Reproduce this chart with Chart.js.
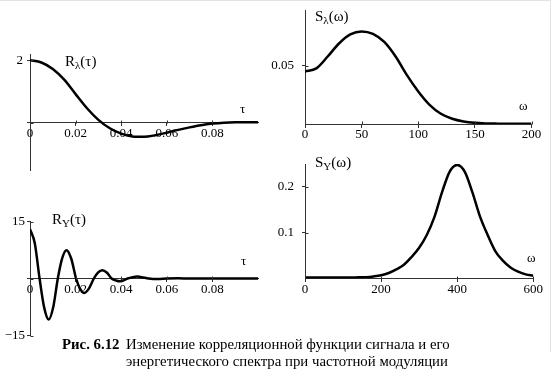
<!DOCTYPE html>
<html>
<head>
<meta charset="utf-8">
<script src="https://cdn.jsdelivr.net/npm/chart.js@4.4.1/dist/chart.umd.min.js"></script>
<style>
  html, body { margin: 0; padding: 0; background: #fff; }
  #page { position: relative; width: 553px; height: 384px; overflow: hidden; background: #fff;
          font-family: "Liberation Serif", "Times New Roman", serif; color: #000; }
  canvas { position: absolute; }
  .lbl { position: absolute; font-size: 15px; line-height: 1; white-space: nowrap; }
  .lbl sub { font-size: 11px; vertical-align: -3px; line-height: 0; }
  .ax { position: absolute; font-size: 13px; line-height: 1; }
  .caption { position: absolute; font-size: 14.8px; line-height: 17px; white-space: nowrap; }
  .edge { position: absolute; background: #e2e2e2; }
</style>
</head>
<body>
<div id="page">
  <div class="edge" style="left:0;top:0;width:551px;height:1px"></div>
  <div class="edge" style="left:550px;top:0;width:1px;height:352px"></div>

  <canvas id="chartTL" width="275" height="150" style="left:0;top:40px"></canvas>
  <canvas id="chartTR" width="291" height="145" style="left:262px;top:0"></canvas>
  <canvas id="chartBL" width="275" height="150" style="left:0;top:200px"></canvas>
  <canvas id="chartBR" width="291" height="150" style="left:262px;top:150px"></canvas>

  <div class="lbl" style="left:65px;top:54px">R<sub>λ</sub>(τ)</div>
  <div class="lbl" style="left:315px;top:9px">S<sub>λ</sub>(ω)</div>
  <div class="lbl" style="left:52px;top:212px">R<sub>Y</sub>(τ)</div>
  <div class="lbl" style="left:315px;top:155px">S<sub>Y</sub>(ω)</div>

  <div class="ax" style="left:240px;top:102px">τ</div>
  <div class="ax" style="left:519px;top:99px">ω</div>
  <div class="ax" style="left:241px;top:254px">τ</div>
  <div class="ax" style="left:527px;top:251px">ω</div>

  <div class="caption" style="left:62px;top:335.5px"><b>Рис. 6.12</b></div>
  <div class="caption" style="left:126px;top:335.5px">Изменение корреляционной функции сигнала и его<br>энергетического спектра при частотной модуляции</div>
</div>

<script>
// --- данные ---
// R_lambda(tau), верхний левый график
const tauA = [0, 0.005, 0.01, 0.015, 0.02, 0.025, 0.03, 0.035, 0.04, 0.045, 0.05,
              0.055, 0.06, 0.065, 0.07, 0.075, 0.08, 0.085, 0.09, 0.095, 0.1];
const rLambda = [2.00, 1.93, 1.72, 1.38, 0.92, 0.47, 0.10, -0.17, -0.34, -0.43, -0.44,
                 -0.39, -0.31, -0.22, -0.14, -0.07, -0.02, 0.01, 0.02, 0.02, 0.02];

// S_lambda(omega), верхний правый график
const omegaA = [0, 10, 20, 30, 40, 50, 60, 70, 80, 90, 100,
                110, 120, 130, 140, 150, 160, 170, 180, 190, 200];
const sLambda = [0.0451, 0.0478, 0.0580, 0.0692, 0.0770, 0.0796, 0.0775, 0.0705, 0.0580, 0.0420, 0.0280,
                 0.0165, 0.0088, 0.0045, 0.0022, 0.0010, 0.0005, 0.0003, 0.0002, 0.0002, 0.0002];

// R_Y(tau), нижний левый график
const tauB = [0, 0.0021, 0.0042, 0.0062, 0.0082, 0.0102, 0.0122, 0.0141, 0.016, 0.0181,
              0.0202, 0.022, 0.0238, 0.0259, 0.028, 0.0298, 0.0317, 0.0338, 0.0358, 0.0376,
              0.0393, 0.041, 0.0428, 0.045, 0.047, 0.049, 0.052, 0.056, 0.06, 0.065,
              0.07, 0.08, 0.09, 0.1];
const rY = [13.0, 9.3, 0, -7.6, -10.8, -7.5, 0, 5.3, 7.45, 5.2,
            0, -2.7, -3.8, -2.6, 0, 1.55, 2.2, 1.5, 0, -0.5,
            -0.75, -0.5, 0, 0.35, 0.5, 0.35, 0, -0.15, 0, 0.05,
            0, 0.03, 0.03, 0.03];

// S_Y(omega), нижний правый график
const omegaB = [0, 20, 40, 60, 80, 100, 120, 140, 160, 180, 200, 220, 240, 260, 280, 300,
                320, 340, 360, 380, 400, 420, 440, 460, 480, 500, 520, 540, 560, 580, 600];
const sY = [0.002, 0.002, 0.002, 0.002, 0.002, 0.002, 0.002, 0.0025, 0.003, 0.0045, 0.007,
            0.012, 0.020, 0.030, 0.047, 0.067, 0.095, 0.134, 0.188, 0.233, 0.248,
            0.233, 0.188, 0.135, 0.095, 0.060, 0.039, 0.024, 0.015, 0.009, 0.006];

// деления осей
const xTicksA = [0, 0.02, 0.04, 0.06, 0.08];
const xLabelsA = ["0", "0.02", "0.04", "0.06", "0.08"];
const xTicksTR = [0, 50, 100, 150, 200];
const xLabelsTR = ["0", "50", "100", "150", "200"];
const xTicksBR = [0, 200, 400, 600];
const xLabelsBR = ["0", "200", "400", "600"];
const yTicksTL = [0, 2];
const yLabelsTL = ["", "2"];
const yTicksTR = [0.05];
const yLabelsTR = ["0.05"];
const yTicksBL = [-15, 0, 15];
const yLabelsBL = ["\u221215", "", "15"];
const yTicksBR = [0.1, 0.2];
const yLabelsBR = ["0.1", "0.2"];

Chart.defaults.font.family = '"Liberation Serif", "Times New Roman", serif';
Chart.defaults.font.size = 13;
Chart.defaults.color = "#000";

// засечки, пересекающие ось (как в Mathcad)
const crossTicks = {
  id: "crossTicks",
  afterDraw(chart) {
    const ctx = chart.ctx;
    const xs = chart.scales.x;
    const ys = chart.scales.y;
    const y0 = Math.round(ys.getPixelForValue(0)) + 0.5;
    const x0 = Math.round(chart.chartArea.left) + 0.5;
    ctx.save();
    ctx.strokeStyle = "#333";
    ctx.lineWidth = 1;
    ctx.beginPath();
    xs.ticks.forEach(function (t) {
      const px = Math.round(xs.getPixelForValue(t.value)) + 0.5;
      ctx.moveTo(px, y0 - 3);
      ctx.lineTo(px, y0);
    });
    ys.ticks.forEach(function (t) {
      const py = Math.round(ys.getPixelForValue(t.value)) + 0.5;
      ctx.moveTo(x0, py);
      ctx.lineTo(x0 + 3, py);
    });
    ctx.stroke();
    ctx.restore();
  }
};

function makeChart(id, xs, ys, opts) {
  const points = xs.map(function (x, i) { return { x: x, y: ys[i] }; });
  return new Chart(document.getElementById(id), {
    type: "line",
    data: {
      datasets: [{
        data: points,
        borderColor: "#000",
        borderWidth: 2.5,
        pointRadius: 0,
        cubicInterpolationMode: "monotone",
        fill: false
      }]
    },
    options: {
      responsive: false,
      animation: false,
      events: [],
      layout: { padding: opts.padding },
      plugins: { legend: { display: false }, tooltip: { enabled: false } },
      scales: {
        x: {
          type: "linear",
          position: { y: 0 },
          min: opts.xMin,
          max: opts.xMax,
          afterBuildTicks: function (s) { s.ticks = opts.xTicks.map(function (v) { return { value: v }; }); },
          afterFit: function (s) { s.height = 0; s.paddingLeft = 0; s.paddingRight = 0; },
          grid: { drawOnChartArea: false, drawTicks: true, tickLength: 3, color: "#333" },
          border: { display: true, color: "#333", width: 1 },
          ticks: {
            padding: 0,
            maxRotation: 0,
            autoSkip: false,
            callback: function (v, i) { return opts.xLabels[i]; }
          }
        },
        y: {
          type: "linear",
          position: "left",
          min: opts.yMin,
          max: opts.yMax,
          afterBuildTicks: function (s) { s.ticks = opts.yTicks.map(function (v) { return { value: v }; }); },
          // фиксированная ширина оси, без запаса под подписи сверху/снизу
          afterFit: function (s) { s.width = opts.yWidth; s.paddingTop = 0; s.paddingBottom = 0; },
          grid: { drawOnChartArea: false, drawTicks: true, tickLength: 3, color: "#333" },
          border: { display: true, color: "#333", width: 1 },
          ticks: {
            padding: opts.yPad,
            autoSkip: false,
            callback: function (v, i) { return opts.yLabels[i]; }
          }
        }
      }
    },
    plugins: [crossTicks]
  });
}

makeChart("chartTL", tauA, rLambda, {
  padding: { left: 0, top: 14, right: 17, bottom: 20 },
  xMin: 0, xMax: 0.1, yMin: -1.5, yMax: 2.2,
  xTicks: xTicksA, xLabels: xLabelsA, yTicks: yTicksTL, yLabels: yLabelsTL,
  yWidth: 30, yPad: 4
});
makeChart("chartTR", omegaA, sLambda, {
  padding: { left: 0, top: 10, right: 21.5, bottom: 21 },
  xMin: 0, xMax: 200, yMin: 0, yMax: 0.098,
  xTicks: xTicksTR, xLabels: xLabelsTR, yTicks: yTicksTR, yLabels: yLabelsTR,
  yWidth: 43, yPad: 8
});
makeChart("chartBL", tauB, rY, {
  padding: { left: 0, top: 21.5, right: 17, bottom: 14.5 },
  xMin: 0, xMax: 0.1, yMin: -15, yMax: 15,
  xTicks: xTicksA, xLabels: xLabelsA, yTicks: yTicksBL, yLabels: yLabelsBL,
  yWidth: 30, yPad: 2
});
makeChart("chartBR", omegaB, sY, {
  padding: { left: 0, top: 14, right: 19.7, bottom: 21.5 },
  xMin: 0, xMax: 600, yMin: 0, yMax: 0.25,
  xTicks: xTicksBR, xLabels: xLabelsBR, yTicks: yTicksBR, yLabels: yLabelsBR,
  yWidth: 43, yPad: 8
});
</script>
</body>
</html>
